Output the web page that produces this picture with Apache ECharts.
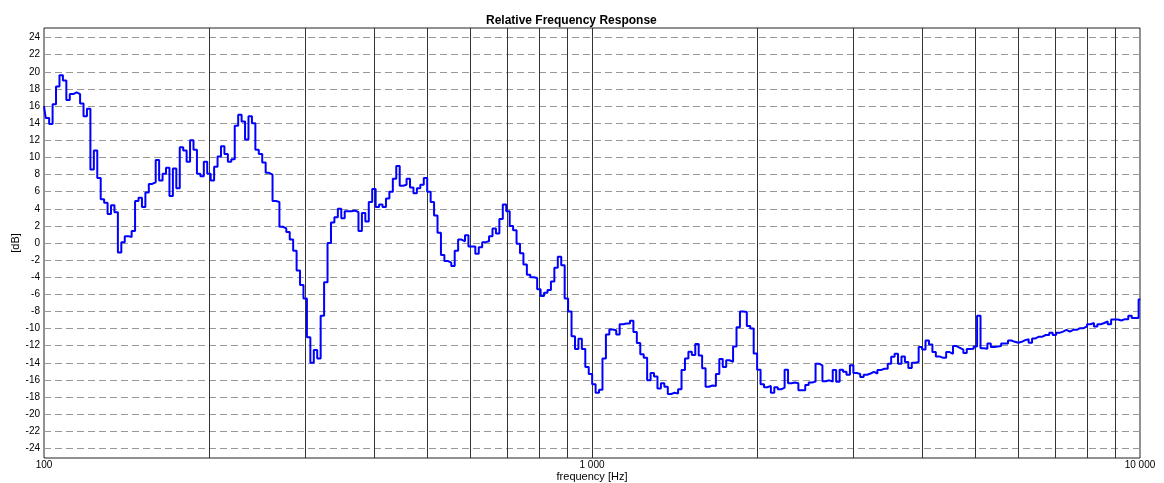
<!DOCTYPE html>
<html><head><meta charset="utf-8">
<script src="https://cdn.jsdelivr.net/npm/echarts@6/dist/echarts.min.js"></script>
<style>html,body{margin:0;padding:0;background:#fff}#c{width:1164px;height:483px}</style>
</head><body><div id="c"></div>
<script>
// 1/48-octave analysis bins starting at 100 Hz
const BIN_START_HZ = 100;
const BINS_PER_OCTAVE = 48;

// level of each bin in dB
const levelsDb = [
  16.0, 14.6, 13.9, 16.2, 18.3, 19.6, 19.0, 16.7, 17.4, 17.6,
  17.4, 16.3, 14.8, 15.7, 8.6, 10.8, 7.6, 5.1, 4.7, 3.4,
  4.4, 3.6, -1.1, 0.1, 0.8, 0.7, 1.4, 4.9, 5.3, 4.2,
  5.9, 6.9, 7.1, 9.7, 7.3, 8.1, 8.8, 5.5, 8.7, 6.4,
  11.2, 10.8, 9.5, 12.0, 10.9, 8.1, 7.8, 9.5, 8.1, 7.3,
  8.9, 10.1, 11.3, 10.4, 9.5, 9.8, 13.7, 15.0, 14.2, 12.1,
  14.8, 14.0, 10.9, 10.4, 9.4, 8.2, 8.0, 4.9, 4.8, 1.9,
  1.7, 1.3, 0.4, -0.9, -3.2, -4.9, -6.5, -11.0, -14.0, -12.5,
  -13.5, -8.5, -4.6, 0.0, 2.4, 3.0, 4.0, 2.9, 3.7, 3.7,
  3.8, 3.6, 1.4, 3.5, 2.5, 4.8, 6.3, 4.2, 4.5, 4.2,
  5.2, 6.0, 7.5, 9.0, 6.7, 6.8, 7.5, 6.5, 5.8, 6.4,
  6.8, 7.6, 6.0, 4.8, 3.2, 1.2, -1.4, -2.1, -2.3, -2.7,
  -0.9, 0.4, 0.2, 0.9, -0.4, -0.4, -1.25, -0.5, 0.1, 0.2,
  0.8, 1.7, 1.1, 2.8, 4.5, 3.7, 2.0, 1.5, -0.1, -1.2,
  -2.5, -3.7, -4.0, -4.1, -5.4, -6.2, -5.8, -5.5, -4.5, -2.9,
  -1.6, -2.6, -6.5, -8.0, -10.9, -12.4, -11.2, -12.4, -14.5, -15.3,
  -16.5, -17.5, -17.15, -13.5, -10.7, -10.1, -10.2, -10.7, -9.5, -9.4,
  -9.4, -9.1, -10.4, -11.7, -13.0, -13.4, -16.05, -15.2, -15.6, -17.0,
  -16.4, -16.8, -17.65, -17.5, -17.6, -17.1, -14.85, -13.5, -12.7, -13.1,
  -11.8, -13.15, -14.65, -16.8, -16.65, -16.7, -15.3, -13.55, -14.5, -13.7,
  -13.9, -12.1, -9.85, -8.0, -8.05, -9.7, -10.0, -12.9, -14.8, -16.5,
  -16.85, -16.7, -17.5, -16.85, -17.1, -16.9, -14.8, -16.4, -16.3, -16.4,
  -17.2, -17.2, -16.6, -16.3, -16.2, -14.1, -14.3, -16.15, -16.05, -16.2,
  -14.85, -16.2, -14.8, -15.05, -15.4, -14.3, -15.2, -15.3, -15.65, -15.4,
  -15.25, -15.05, -15.25, -14.85, -14.7, -14.7, -14.1, -13.3, -12.95, -14.1,
  -13.25, -13.9, -14.6, -14.0, -13.9, -12.15, -12.45, -11.4, -11.85, -12.75,
  -13.25, -13.4, -13.4, -12.75, -12.95, -12.05, -12.25, -12.45, -12.85, -12.4,
  -12.35, -12.1, -8.5, -12.3, -12.35, -11.75, -12.15, -12.1, -12.05, -11.75,
  -11.75, -11.4, -11.55, -11.65, -11.55, -11.35, -11.25, -11.65, -11.15, -10.95,
  -10.95, -10.75, -10.75, -10.5, -10.75, -10.5, -10.35, -10.15, -10.35, -10.15,
  -10.15, -9.95, -9.95, -9.75, -9.5, -9.35, -9.75, -9.5, -9.35, -9.15,
  -9.5, -8.95, -8.95, -9.05, -8.9, -8.9, -8.5, -8.75, -8.75, -6.6
];

// axis ticks / grid lines
const yTickDb = [-24,-22,-20,-18,-16,-14,-12,-10,-8,-6,-4,-2,0,2,4,6,8,10,12,14,16,18,20,22,24];
const xGridHz = [200,300,400,500,600,700,800,900,1000,2000,3000,4000,5000,6000,7000,8000,9000];
const xLabelHz = [100, 1000, 10000];

const FONT = "'Liberation Sans', Arial, sans-serif";

const points = levelsDb.map((v, i) => [BIN_START_HZ * Math.pow(2, i / BINS_PER_OCTAVE), v]);

function fmtHz(v) {
  const r = Math.round(v);
  if (!xLabelHz.includes(r)) return '';
  return String(r).replace(/\B(?=(\d{3})+(?!\d))/g, ' ');
}
function fmtDb(v) {
  const r = Math.round(v);
  if (Math.abs(v - r) > 1e-6) return '';
  return yTickDb.includes(r) ? String(r) : '';
}

const chart = echarts.init(document.getElementById('c'), null, {renderer: 'canvas'});
chart.setOption({
  animation: false,
  backgroundColor: '#fff',
  title: {
    text: 'Relative Frequency Response',
    left: 481, top: 10,
    textStyle: {fontFamily: FONT, fontSize: 12, fontWeight: 'bold', color: '#000'}
  },
  grid: {left: 44, top: 28, width: 1096, height: 430, show: true, borderColor: '#222', borderWidth: 1,
         containLabel: false, outerBoundsMode: 'none'},
  xAxis: {
    type: 'log', logBase: 10, min: 100, max: 10000,
    axisLine: {show: false}, axisTick: {show: false}, splitLine: {show: false},
    axisLabel: {fontFamily: FONT, fontSize: 10, color: '#000', margin: 2, formatter: fmtHz, showMinLabel: true, showMaxLabel: true},
    name: 'frequency [Hz]', nameLocation: 'middle', nameGap: 13, nameMoveOverlap: false,
    nameTextStyle: {fontFamily: FONT, fontSize: 11, color: '#000'}
  },
  yAxis: {
    type: 'value', min: -25.125, max: 25.125, interval: 0.125,
    axisLine: {show: false}, axisTick: {show: false}, splitLine: {show: false},
    axisLabel: {fontFamily: FONT, fontSize: 10, color: '#000', margin: 4, formatter: fmtDb},
    name: '[dB]', nameLocation: 'middle', nameGap: 23, nameRotate: 90, nameMoveOverlap: false,
    nameTextStyle: {fontFamily: FONT, fontSize: 11, color: '#000'}
  },
  series: [
    {
      type: 'line', data: [[100, 0], [10000, 0]], symbol: 'none', silent: true, z: 1,
      lineStyle: {opacity: 0},
      markLine: {
        silent: true, symbol: ['none', 'none'], label: {show: false}, animation: false,
        data: [
          ...yTickDb.map(v => ({yAxis: v, lineStyle: {type: [7, 4], color: '#999', width: 1}})),
          ...xGridHz.map(f => ({xAxis: f, lineStyle: {type: 'solid', color: '#333', width: 1}}))
        ]
      }
    },
    {
      type: 'line', data: points, step: 'middle', symbol: 'none', z: 5, clip: true,
      lineStyle: {color: '#0000ff', width: 2}
    }
  ]
});
</script></body></html>
